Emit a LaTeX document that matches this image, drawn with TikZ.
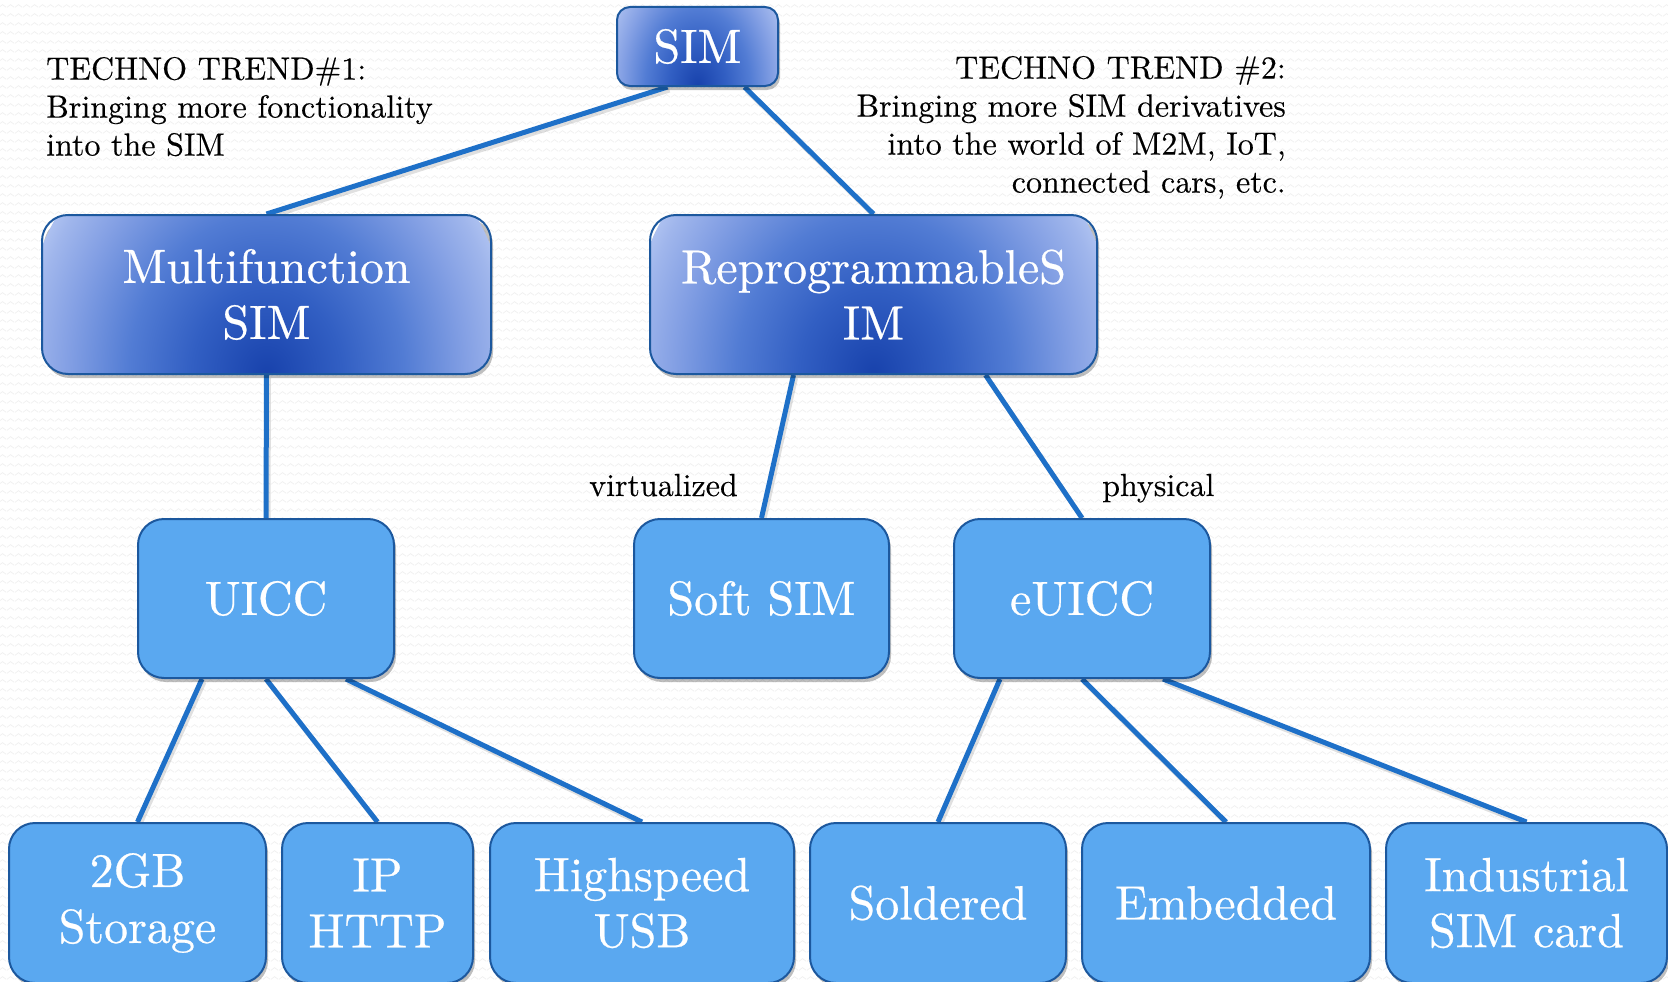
\documentclass[tikz,border=0pt]{standalone}
\usepackage{fontspec}
\setmainfont{lmroman10-regular.otf}
\newfontfamily\boxfont{lmroman10-regular.otf}[FakeBold=0.5]
\newfontfamily\notefont{lmroman10-regular.otf}[FakeBold=0.3]
\usetikzlibrary{shadows,patterns.meta}

\definecolor{edgeblue}{RGB}{30,112,200}
\definecolor{boxline}{RGB}{28,88,158}
\definecolor{boxfill}{RGB}{90,168,240}
\definecolor{gdark}{RGB}{24,66,172}
\definecolor{gmidA}{RGB}{50,95,195}
\definecolor{gmidB}{RGB}{82,124,212}
\definecolor{glightA}{RGB}{132,160,228}
\definecolor{glightB}{RGB}{160,182,236}
\definecolor{glightC}{RGB}{172,192,240}

% dark spot at the bottom centre fading to pale blue (rim of the ellipse at 25bp)
\pgfdeclareradialshading{headgrad}{\pgfpointorigin}{%
  color(0bp)=(gdark); color(7.5bp)=(gmidA); color(13.75bp)=(gmidB);
  color(20bp)=(glightA); color(23.75bp)=(glightB); color(25bp)=(glightC);
  color(50bp)=(glightC)}

% faint wavy paper texture
\tikzdeclarepattern{
  name=paperwave,
  type=uncolored,
  bounding box={(0pt,0pt) and (8pt,9pt)},
  tile size={(8pt,9pt)},
  code={\draw[line width=0.6pt] (0pt,3pt) -- (4pt,6pt) -- (8pt,3pt);}
}

\pgfdeclarelayer{backdrop}
\pgfdeclarelayer{links}
\pgfsetlayers{backdrop,links,main}

\tikzset{
  box/.style={draw=boxline, line width=2pt, rounded corners=26pt,
    inner sep=0pt, align=center, text=white,
    font=\boxfont\fontsize{48}{56}\selectfont,
    drop shadow={shadow xshift=2pt, shadow yshift=-4pt, opacity=.25, fill=black}},
  leaf/.style={box, fill=boxfill},
  head/.style 2 args={box, path picture={%
      \shade[shading=headgrad] (path picture bounding box.south)
        ellipse[x radius=#1, y radius=#2];}},
  link/.style={draw=edgeblue, line width=5pt},
  linkshadow/.style={draw=black, opacity=.12, line width=5pt,
    transform canvas={xshift=2pt, yshift=-3pt}},
  note/.style={inner sep=0pt, text=black, font=\notefont\fontsize{32}{38}\selectfont},
}

\begin{document}
\begin{tikzpicture}[x=1pt, y=-1pt]
\useasboundingbox (0,0) rectangle (1668,982);

\begin{pgfonlayer}{backdrop}
  \fill[white] (0,0) rectangle (1668,982);
  \fill[pattern=paperwave, pattern color=black!7] (0,0) rectangle (1668,982);
\end{pgfonlayer}

% top and second level
\node[head={95pt}{140pt}, rounded corners=13pt, minimum width=161pt, minimum height=79pt] (sim) at (697.5,46.5) {SIM};
\node[head={250pt}{290pt}, minimum width=449pt, minimum height=159pt] (multi) at (266.5,294.5) {Multifunction\\SIM};
\node[head={250pt}{290pt}, minimum width=447pt, minimum height=159pt] (reprog) at (873.5,294.5) {ReprogrammableS\\IM};

% third level
\node[leaf, minimum width=256pt, minimum height=159pt] (uicc) at (266,598.5) {UICC};
\node[leaf, minimum width=255pt, minimum height=159pt] (soft) at (761.5,598.5) {Soft SIM};
\node[leaf, minimum width=256pt, minimum height=159pt] (euicc) at (1082,598.5) {eUICC};

% bottom row
\node[leaf, minimum width=257pt, minimum height=160pt] (gb) at (137.5,903) {2GB\\Storage};
\node[leaf, minimum width=191pt, minimum height=160pt] (ip) at (377.5,903) {IP\\HTTP};
\node[leaf, minimum width=304pt, minimum height=160pt] (hs) at (642,903) {Highspeed\\USB};
\node[leaf, minimum width=256pt, minimum height=160pt] (sold) at (938,903) {Soldered};
\node[leaf, minimum width=288pt, minimum height=160pt] (emb) at (1226,903) {Embedded};
\node[leaf, minimum width=281pt, minimum height=160pt] (ind) at (1526.5,903) {Industrial\\SIM card};

% annotations
\node[note, anchor=north west, align=left] (trendone) at (46,56.8)
  {TECHNO TREND\#1:\\Bringing more fonctionality\\into the SIM};
\node[note, anchor=north east, align=right] (trendtwo) at (1286,55.8)
  {TECHNO TREND \#2:\\Bringing more SIM derivatives\hspace*{8pt}\\into the world of M2M, IoT,\hspace*{8pt}\\connected cars, etc.};
\node[note, anchor=base west] (virt) at (589,496) {virtualized};
\node[note, anchor=base west] (phys) at (1102,496) {physical};

% connectors
\begin{pgfonlayer}{links}
\foreach \a/\d/\b in {sim/-30/multi, sim/47/reprog, multi/0/uicc,
    reprog/-80/soft, reprog/112/euicc,
    uicc/-64/gb, uicc/0/ip, uicc/80/hs,
    euicc/-82/sold, euicc/0/emb, euicc/81/ind} {
  \draw[linkshadow] ([xshift=\d pt]\a.south) -- (\b.north);
  \draw[link] ([xshift=\d pt]\a.south) -- (\b.north);
}
\end{pgfonlayer}
\end{tikzpicture}
\end{document}
